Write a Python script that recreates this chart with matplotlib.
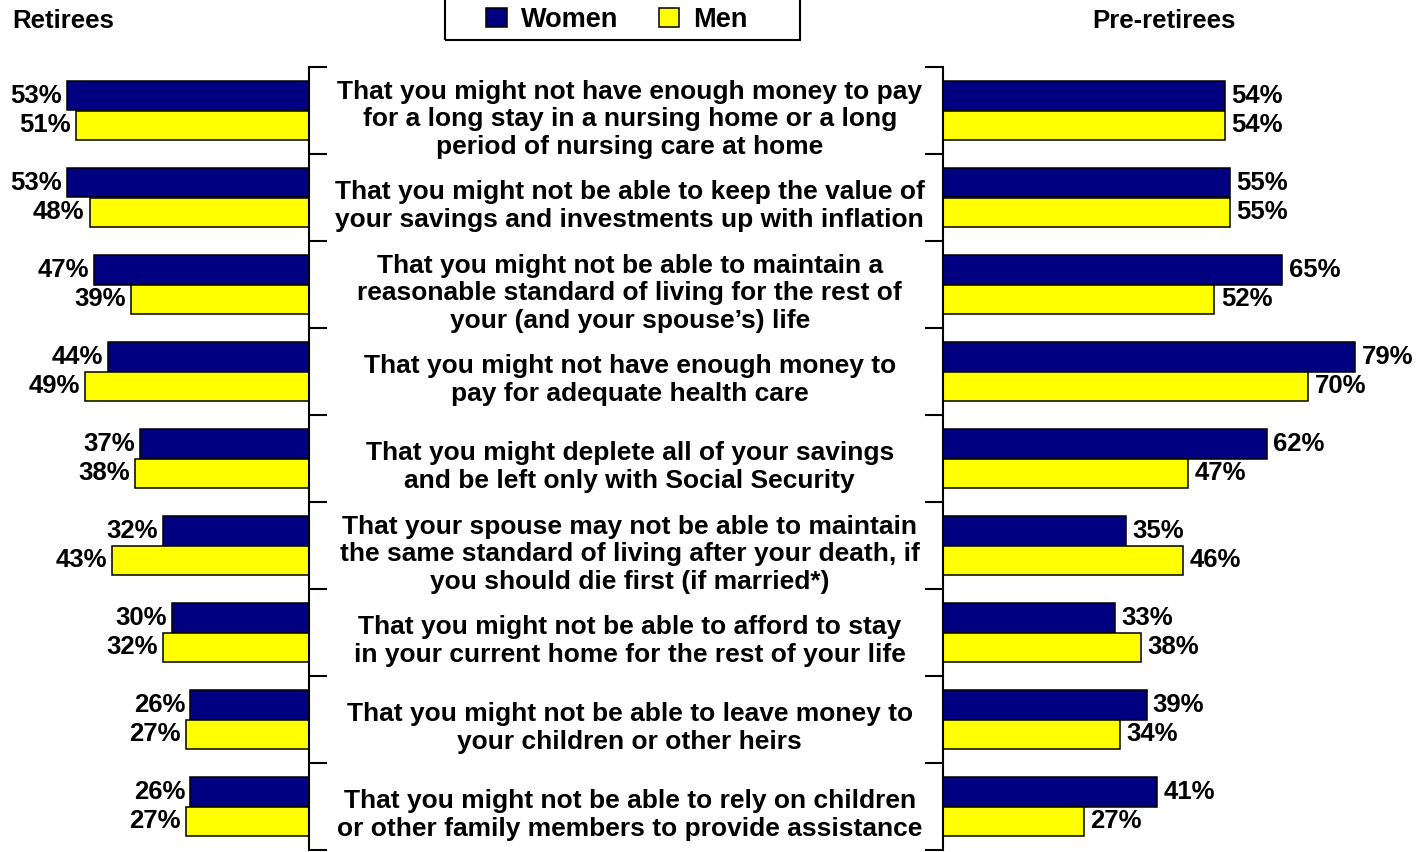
import matplotlib
matplotlib.use('Agg')
import matplotlib.pyplot as plt
import numpy as np
from matplotlib.patches import Patch, Rectangle

# --- data ---
concerns = [
    "That you might not have enough money to pay\nfor a long stay in a nursing home or a long\nperiod of nursing care at home",
    "That you might not be able to keep the value of\nyour savings and investments up with inflation",
    "That you might not be able to maintain a\nreasonable standard of living for the rest of\nyour (and your spouse\u2019s) life",
    "That you might not have enough money to\npay for adequate health care",
    "That you might deplete all of your savings\nand be left only with Social Security",
    "That your spouse may not be able to maintain\nthe same standard of living after your death, if\nyou should die first (if married*)",
    "That you might not be able to afford to stay\nin your current home for the rest of your life",
    "That you might not be able to leave money to\nyour children or other heirs",
    "That you might not be able to rely on children\nor other family members to provide assistance",
]
retirees_women = [53, 53, 47, 44, 37, 32, 30, 26, 26]
retirees_men = [51, 48, 39, 49, 38, 43, 32, 27, 27]
preretirees_women = [54, 55, 65, 79, 62, 35, 33, 39, 41]
preretirees_men = [54, 55, 52, 70, 47, 46, 38, 34, 27]

NAVY = '#000080'
YELLOW = '#FFFF00'
FONT = 'Liberation Sans'
FS = 18.5

W, H = 1426, 852
fig = plt.figure(figsize=(W / 100, H / 100), dpi=100)
top = 1 - 67 / H
bottom = 1 - 850 / H

ax_l = fig.add_axes([0, bottom, 309 / W, top - bottom])
ax_m = fig.add_axes([309 / W, bottom, (943 - 309) / W, top - bottom])
ax_r = fig.add_axes([943 / W, bottom, 1 - 943 / W, top - bottom])

y = np.arange(len(concerns))
bh = 0.34
txt = dict(fontfamily=FONT, fontweight='bold', fontsize=FS)

# retirees (bars going left)
ax_l.barh(y - bh / 2, retirees_women, height=bh, color=NAVY, edgecolor='black', linewidth=1.1)
ax_l.barh(y + bh / 2, retirees_men, height=bh, color=YELLOW, edgecolor='black', linewidth=1.1)
ax_l.set_xlim(309 / 4.57, 0)
for i in range(len(y)):
    ax_l.text(retirees_women[i] + 1.1, y[i] - bh / 2, f'{retirees_women[i]}%', ha='right', va='center', **txt)
    ax_l.text(retirees_men[i] + 1.1, y[i] + bh / 2, f'{retirees_men[i]}%', ha='right', va='center', **txt)

# pre-retirees (bars going right)
ax_r.barh(y - bh / 2, preretirees_women, height=bh, color=NAVY, edgecolor='black', linewidth=1.1)
ax_r.barh(y + bh / 2, preretirees_men, height=bh, color=YELLOW, edgecolor='black', linewidth=1.1)
ax_r.set_xlim(0, (W - 943) / 5.22)
for i in range(len(y)):
    ax_r.text(preretirees_women[i] + 1.2, y[i] - bh / 2, f'{preretirees_women[i]}%', ha='left', va='center', **txt)
    ax_r.text(preretirees_men[i] + 1.2, y[i] + bh / 2, f'{preretirees_men[i]}%', ha='left', va='center', **txt)

bounds = np.arange(-0.5, len(concerns), 1)
for ax, side in ((ax_l, 'right'), (ax_r, 'left')):
    ax.set_ylim(len(concerns) - 0.5, -0.5)
    for s in ax.spines.values():
        s.set_visible(False)
    ax.spines[side].set_visible(True)
    ax.spines[side].set_linewidth(1.5)
    ax.set_xticks([])
    ax.set_yticks(bounds)
    ax.set_yticklabels([])
    ax.tick_params(axis='y', direction='out', length=13, width=1.5,
                   left=(side == 'left'), right=(side == 'right'),
                   labelleft=False, labelright=False)
    ax.patch.set_visible(False)

# category labels in the middle
ax_m.set_ylim(len(concerns) - 0.5, -0.5)
ax_m.axis('off')
for i, c in enumerate(concerns):
    ax_m.text(0.506, i + 0.1, c, transform=ax_m.get_yaxis_transform(),
              ha='center', va='center', multialignment='center', linespacing=1.19,
              fontfamily=FONT, fontweight='bold', fontsize=19)

# panel titles
fig.text(12 / W, 1 - 21 / H, 'Retirees', ha='left', va='center', **txt)
fig.text(1164 / W, 1 - 21 / H, 'Pre-retirees', ha='center', va='center', **txt)

# legend
handles = [Patch(facecolor=NAVY, edgecolor='black', linewidth=1.1),
           Patch(facecolor=YELLOW, edgecolor='black', linewidth=1.1)]
fig.legend(handles, ['Women', 'Men'], loc='center', bbox_to_anchor=(617 / W, 1 - 20 / H),
           ncol=2, frameon=False, handlelength=0.75, handleheight=0.65,
           handletextpad=0.52, columnspacing=1.5,
           prop=dict(family=FONT, weight='bold', size=19.5))
fig.add_artist(Rectangle((445 / W, 1 - 40 / H), (800 - 445) / W, 60 / H,
                         transform=fig.transFigure, fill=False, edgecolor='black', linewidth=1.5))

fig.savefig('out.png', dpi=100)
